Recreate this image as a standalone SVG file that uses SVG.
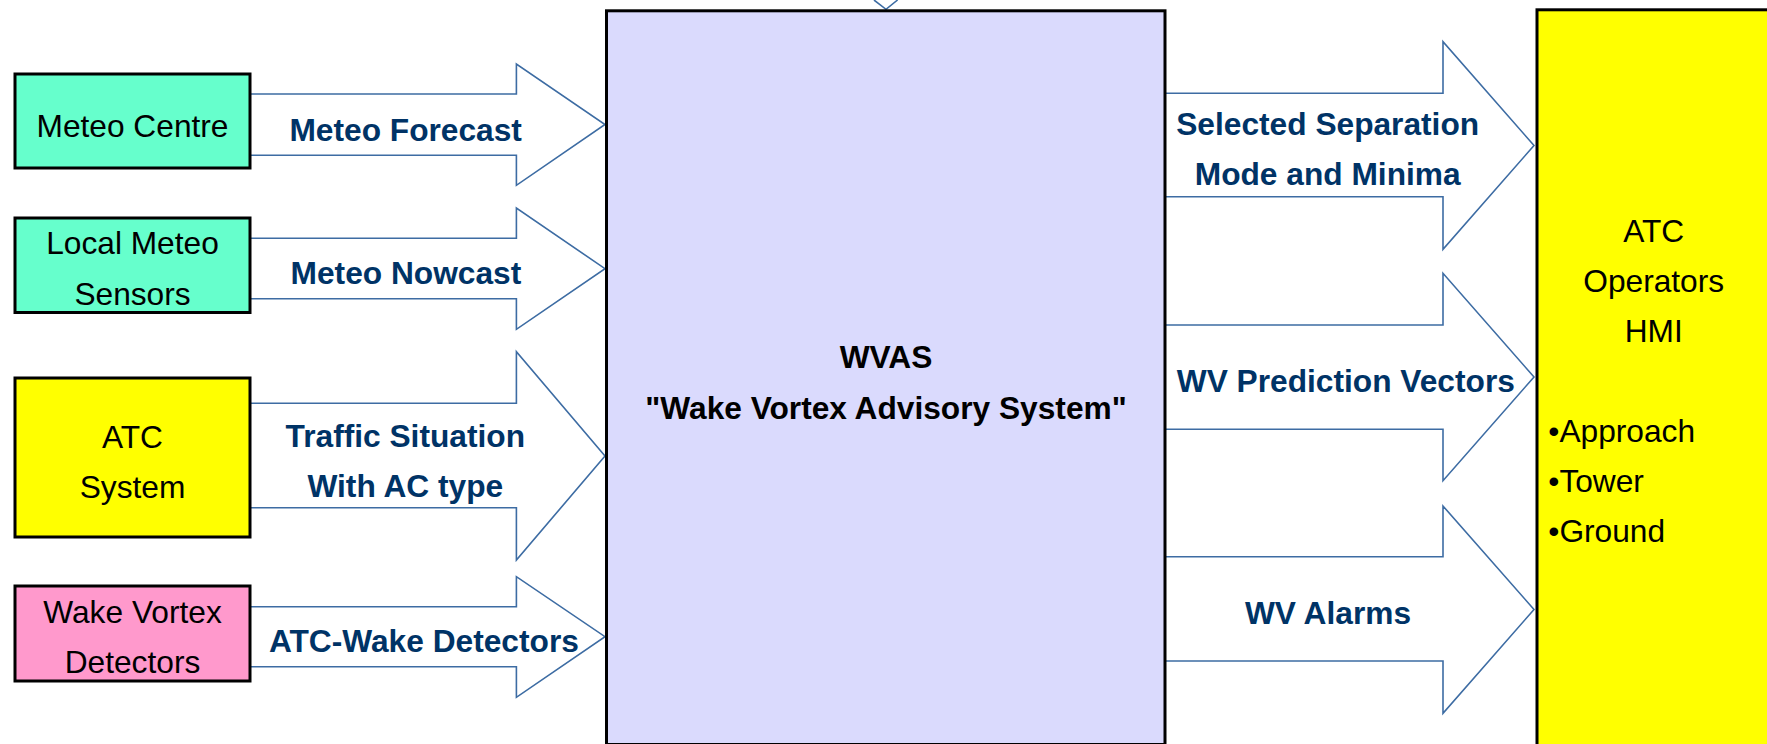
<svg xmlns="http://www.w3.org/2000/svg" width="1767" height="744" viewBox="0 0 1767 744">
<style>
.bg{fill:#ffffff}
.box{stroke:#000000;stroke-width:3}
.arrow{fill:#ffffff;stroke:#3d6ca3;stroke-width:1.6;stroke-linejoin:miter}
.nt{font-family:"Liberation Sans",Arial,sans-serif;font-size:31.7px;fill:#000000;text-anchor:middle}
.lb{font-family:"Liberation Sans",Arial,sans-serif;font-size:31.7px;font-weight:bold;fill:#003366;text-anchor:middle}
.mt{font-family:"Liberation Sans",Arial,sans-serif;font-size:31.7px;font-weight:bold;fill:#000000;text-anchor:middle}
.bl{font-family:"Liberation Sans",Arial,sans-serif;font-size:31.7px;fill:#000000}
</style>
<rect class="bg" x="0" y="0" width="1767" height="744"/>
<g id="connectors">
  <polyline class="arrow" fill="none" points="874,0 886,9.3 897.6,0"/>
  <g id="c-meteo-forecast">
    <polygon class="arrow" points="250,94 516.4,94 516.4,64 605,124.5 516.4,185.3 516.4,155.3 250,155.3"/>
    <text class="lb" x="405.7" y="140.7">Meteo Forecast</text>
  </g>
  <g id="c-meteo-nowcast">
    <polygon class="arrow" points="250,238.3 516.4,238.3 516.4,208 605,268.7 516.4,329.3 516.4,298.7 250,298.7"/>
    <text class="lb" x="405.9" y="284">Meteo Nowcast</text>
  </g>
  <g id="c-traffic">
    <polygon class="arrow" points="250,403.3 516.4,403.3 516.4,351.7 605,456 516.4,560 516.4,507.7 250,507.7"/>
    <text class="lb" x="405.3" y="446.7">Traffic Situation</text>
    <text class="lb" x="405.3" y="496.7">With AC type</text>
  </g>
  <g id="c-atc-wake">
    <polygon class="arrow" points="250,606.7 516.4,606.7 516.4,576.7 605,636.7 516.4,697.3 516.4,666.7 250,666.7"/>
    <text class="lb" x="423.9" y="651.7">ATC-Wake Detectors</text>
  </g>
  <g id="c-separation">
    <polygon class="arrow" points="1165,93.3 1443,93.3 1443,41.7 1534,145.5 1443,249.3 1443,196.7 1165,196.7"/>
    <text class="lb" x="1327.7" y="135">Selected Separation</text>
    <text class="lb" x="1327.7" y="185">Mode and Minima</text>
  </g>
  <g id="c-prediction">
    <polygon class="arrow" points="1165,325 1443,325 1443,273.3 1534,377 1443,480.7 1443,429.3 1165,429.3"/>
    <text class="lb" x="1345.8" y="391.7">WV Prediction Vectors</text>
  </g>
  <g id="c-alarms">
    <polygon class="arrow" points="1165,556.7 1443,556.7 1443,506 1534,609.5 1443,713.3 1443,661 1165,661"/>
    <text class="lb" x="1328" y="624">WV Alarms</text>
  </g>
</g>
<g id="meteo-centre">
  <rect class="box" x="15" y="74" width="235" height="94" fill="#66ffcc"/>
  <text class="nt" x="132.5" y="137">Meteo Centre</text>
</g>
<g id="local-meteo">
  <rect class="box" x="15" y="218" width="235" height="94.5" fill="#66ffcc"/>
  <text class="nt" x="132.5" y="254">Local Meteo</text>
  <text class="nt" x="132.5" y="305">Sensors</text>
</g>
<g id="atc-system">
  <rect class="box" x="15" y="378" width="235" height="159" fill="#ffff00"/>
  <text class="nt" x="132.5" y="447.7">ATC</text>
  <text class="nt" x="132.5" y="497.7">System</text>
</g>
<g id="wv-detectors">
  <rect class="box" x="15" y="586" width="235" height="95" fill="#ff99cc"/>
  <text class="nt" x="132.5" y="623.3">Wake Vortex</text>
  <text class="nt" x="132.5" y="673.3">Detectors</text>
</g>
<g id="wvas">
  <rect class="box" x="606.5" y="10.8" width="558.5" height="733.7" fill="#dadafd"/>
  <text class="mt" x="886" y="367.7">WVAS</text>
  <text class="mt" x="886" y="419">"Wake Vortex Advisory System"</text>
</g>
<g id="atc-operators">
  <rect class="box" x="1537" y="9.8" width="300" height="800" fill="#ffff00"/>
  <text class="nt" x="1653.7" y="242.3">ATC</text>
  <text class="nt" x="1653.7" y="292.3">Operators</text>
  <text class="nt" x="1653.7" y="342.3">HMI</text>
  <text class="bl" x="1548.3" y="442.3">•Approach</text>
  <text class="bl" x="1548.3" y="492.3">•Tower</text>
  <text class="bl" x="1548.3" y="541.7">•Ground</text>
</g>
</svg>
